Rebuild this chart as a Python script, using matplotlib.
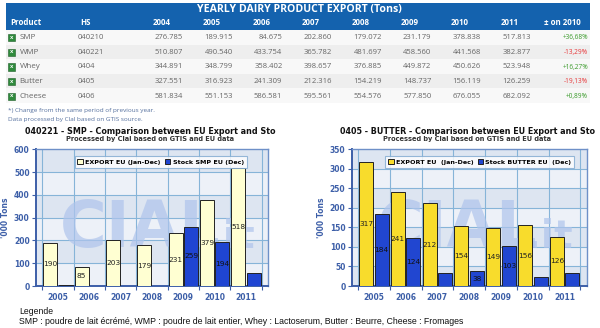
import matplotlib
matplotlib.use("Agg")
import matplotlib.pyplot as plt
from matplotlib.patches import Rectangle

# ---------------- data ----------------
table_title = "YEARLY DAIRY PRODUCT EXPORT (Tons)"
table_cols = ["Product", "HS", "2004", "2005", "2006", "2007", "2008", "2009", "2010", "2011", "± on 2010"]
products = ["SMP", "WMP", "Whey", "Butter", "Cheese"]
hs_codes = ["040210", "040221", "0404", "0405", "0406"]
row_smp = ["276.785", "189.915", "84.675", "202.860", "179.072", "231.179", "378.838", "517.813"]
row_wmp = ["510.807", "490.540", "433.754", "365.782", "481.697", "458.560", "441.568", "382.877"]
row_whey = ["344.891", "348.799", "358.402", "398.657", "376.885", "449.872", "450.626", "523.948"]
row_butter = ["327.551", "316.923", "241.309", "212.316", "154.219", "148.737", "156.119", "126.259"]
row_cheese = ["581.834", "551.153", "586.581", "595.561", "554.576", "577.850", "676.055", "682.092"]
changes = ["+36,68%", "-13,29%", "+16,27%", "-19,13%", "+0,89%"]
table_rows = [row_smp, row_wmp, row_whey, row_butter, row_cheese]

years = ["2005", "2006", "2007", "2008", "2009", "2010", "2011"]
smp_export = [190, 85, 203, 179, 231, 379, 518]
smp_stock = [5, 0, 0, 0, 259, 194, 55]
smp_export_lbl = ["190", "85", "203", "179", "231", "379", "518"]
smp_stock_lbl = ["", "", "", "", "259", "194", ""]
butter_export = [317, 241, 212, 154, 149, 156, 126]
butter_stock = [184, 124, 34, 38, 103, 24, 34]
butter_export_lbl = ["317", "241", "212", "154", "149", "156", "126"]
butter_stock_lbl = ["184", "124", "", "38", "103", "", ""]

W, H = 600, 328
fig = plt.figure(figsize=(W / 100, H / 100), dpi=100)
fig.patch.set_facecolor("white")

def fx(x):
    return x / W

def fy(y):
    return 1 - y / H

def ftext(x, y, s, **kw):
    return fig.text(fx(x), fy(y), s, **kw)

def frect(x0, y0, x1, y1, **kw):
    fig.patches.append(Rectangle((fx(x0), fy(y1)), fx(x1) - fx(x0), fy(y0) - fy(y1),
                                 transform=fig.transFigure, **kw))

# ---------------- table ----------------
blue_head = "#1462AE"
frect(6, 3, 590, 29.5, facecolor=blue_head, edgecolor="none")
ftext(299, 9.3, table_title, ha="center", va="center", color="white",
      fontsize=7.6, fontweight="bold", family="Open Sans")
hdr_y = 22.5
ftext(10, hdr_y, table_cols[0], ha="left", va="center", color="white", fontsize=5.7,
      fontweight="bold", family="Open Sans")
ftext(80, hdr_y, table_cols[1], ha="left", va="center", color="white", fontsize=5.7,
      fontweight="bold", family="Open Sans")
for i in range(8):
    ftext(153 + 49.6 * i, hdr_y, table_cols[2 + i], ha="left", va="center", color="white",
          fontsize=5.7, fontweight="bold", family="Open Sans")
ftext(562, hdr_y, table_cols[10], ha="center", va="center", color="white", fontsize=5.7,
      fontweight="bold", family="Open Sans")

row_bg = ["#F8F8F8", "#EEEEEE", "#F8F8F8", "#EEEEEE", "#F8F8F8"]
row_h = 14.6
for r in range(5):
    y0 = 30 + r * row_h
    yc = y0 + row_h / 2 + 0.5
    frect(6, y0, 590, y0 + row_h, facecolor=row_bg[r], edgecolor="none")
    # excel icon
    frect(8, yc - 3.5, 15, yc + 3.5, facecolor="#2F8A3C", edgecolor="#1E5E28", lw=0.4)
    ftext(11.5, yc, "X", ha="center", va="center", color="white", fontsize=3.2, fontweight="bold")
    ftext(19.5, yc, products[r], ha="left", va="center", color="#666666", fontsize=5.8, family="Open Sans")
    ftext(78, yc, hs_codes[r], ha="left", va="center", color="#666666", fontsize=5.5, family="Open Sans")
    for i, v in enumerate(table_rows[r]):
        ftext(183 + 49.7 * i, yc, v, ha="right", va="center", color="#666666", fontsize=5.5,
              family="Open Sans")
    col = "#3A9A2A" if changes[r].startswith("+") else "#E8383A"
    ftext(588, yc, changes[r], ha="right", va="center", color=col, fontsize=4.7, family="Open Sans")

ftext(8, 110.5, "*) Change from the same period of previous year.", ha="left", va="center",
      color="#55709E", fontsize=4.6, family="Open Sans")
ftext(8, 119, "Data processed by Clal based on GTIS source.", ha="left", va="center",
      color="#55709E", fontsize=4.6, family="Open Sans")

# ---------------- charts ----------------
def make_chart(left, right, title, title_x, ymax, ystep, export, stock, elbl, slbl,
               ecolor, scolor, leg_labels, leg_cx):
    top, bottom = 149.3, 286
    ax = fig.add_axes([fx(left), fy(bottom), fx(right) - fx(left), (bottom - top) / H])
    n = len(years)
    pxu = (right - left - 12) / n
    lpad = 6.3 / pxu
    ax.set_xlim(-0.5 - lpad, n - 0.5 + lpad)
    ax.set_ylim(0, ymax)
    # background bands
    ax.set_facecolor("#EEF2F9")
    k = 0
    y = ymax
    while y > 0:
        c = "#DDE5F1" if k % 2 == 0 else "#EDF1F8"
        ax.axhspan(y - ystep, y, color=c, zorder=0, lw=0)
        y -= ystep
        k += 1
    # grid
    for yy in range(ystep, ymax, ystep):
        ax.axhline(yy, color="#86B4D8", lw=0.8, zorder=1)
    for b in range(n + 1):
        ax.axvline(b - 0.5, color="#86B4D8", lw=0.8, zorder=1)
    # watermark
    ax.text(0.45, 0.42, "CIAL", transform=ax.transAxes, ha="center", va="center",
            fontsize=46, fontweight="bold", color="#AFC4EC", alpha=0.7, zorder=2)
    ax.text(0.84, 0.36, ".it", transform=ax.transAxes, ha="center", va="center",
            fontsize=28, fontweight="bold", color="#AFC4EC", alpha=0.7, zorder=2)
    xs = list(range(n))
    bw = 0.44
    ax.bar([x - 0.245 for x in xs], export, width=bw, color=ecolor, edgecolor="#222222",
           lw=0.7, zorder=3, label=leg_labels[0])
    ax.bar([x + 0.245 for x in xs], stock, width=bw, color=scolor, edgecolor="#222222",
           lw=0.7, zorder=3, label=leg_labels[1])
    for i in range(n):
        if elbl[i]:
            ax.text(xs[i] - 0.245, export[i] / 2, elbl[i], ha="center", va="center",
                    fontsize=5.3, color="#222222", zorder=4)
        if slbl[i]:
            ax.text(xs[i] + 0.245, stock[i] / 2, slbl[i], ha="center", va="center",
                    fontsize=5.3, color="#111111", zorder=4)
    # axes styling
    for s in ax.spines.values():
        s.set_color("#6E90C8")
        s.set_linewidth(1.0)
    ax.spines["left"].set_color("#3D5FA8")
    ax.spines["left"].set_linewidth(1.4)
    ax.spines["bottom"].set_color("#3D5FA8")
    ax.spines["bottom"].set_linewidth(1.4)
    ax.set_yticks(range(0, ymax + 1, ystep))
    ax.set_yticklabels([str(v) for v in range(0, ymax + 1, ystep)])
    ax.tick_params(axis="y", length=3, width=0.8, color="#3D5FA8", labelsize=5.5,
                   labelcolor="#3D5FA8", pad=1.5)
    ax.set_xticks([b - 0.5 for b in range(n + 1)])
    ax.set_xticklabels([])
    ax.tick_params(axis="x", which="major", length=3, width=0.8, color="#3D5FA8")
    ax.set_xticks(xs, minor=True)
    ax.set_xticklabels(years, minor=True)
    ax.tick_params(axis="x", which="minor", length=0, labelsize=5.5, labelcolor="#3D5FA8", pad=5)
    for t in ax.get_yticklabels() + ax.get_xticklabels(minor=True):
        t.set_fontweight("bold")
    ax.set_ylabel("'000 Tons", fontsize=5.5, color="#3D5FA8", fontweight="bold", labelpad=3)
    leg = ax.legend(loc="upper center", bbox_to_anchor=(leg_cx, 0.975), ncol=2,
                    frameon=True, fancybox=False, handlelength=0.9, handleheight=0.9,
                    handletextpad=0.35, columnspacing=0.6, borderpad=0.45,
                    prop={"weight": "bold", "size": 4.6})
    leg.get_frame().set_edgecolor("#7FA8D0")
    leg.get_frame().set_linewidth(0.8)
    leg.get_frame().set_facecolor("white")
    leg.set_zorder(5)
    # titles
    ftext(title_x, 131, title, ha="center", va="center", fontsize=5.8, fontweight="bold",
          color="#111111")
    ftext(title_x, 139.5, "Processed by Clal based on GTIS and EU data", ha="center", va="center",
          fontsize=4.8, fontweight="bold", color="#333333")
    return ax

make_chart(36, 268, "040221 - SMP - Comparison between EU Export and Sto", 150, 600, 100,
           smp_export, smp_stock, smp_export_lbl, smp_stock_lbl, "#FFFFD2", "#1F45D2",
           ["EXPORT EU (Jan-Dec)", "Stock SMP EU (Dec)"], 0.537)
make_chart(351.7, 586.7, "0405 - BUTTER - Comparison between EU Export and Sto", 467, 350, 50,
           butter_export, butter_stock, butter_export_lbl, butter_stock_lbl, "#F8DC2C", "#2146D0",
           ["EXPORT EU  (Jan-Dec)", "Stock BUTTER EU  (Dec)"], 0.545)

# ---------------- legend text at bottom ----------------
ftext(19, 312, "Legende", ha="left", va="center", fontsize=6.2, family="Liberation Sans", color="#111111")
ftext(19, 321, "SMP : poudre de lait écrémé, WMP : poudre de lait entier, Whey : Lactoserum, "
      "Butter : Beurre, Cheese : Fromages", ha="left", va="center", fontsize=6.3,
      family="Liberation Sans", color="#111111")

fig.savefig("out.png", dpi=100)
